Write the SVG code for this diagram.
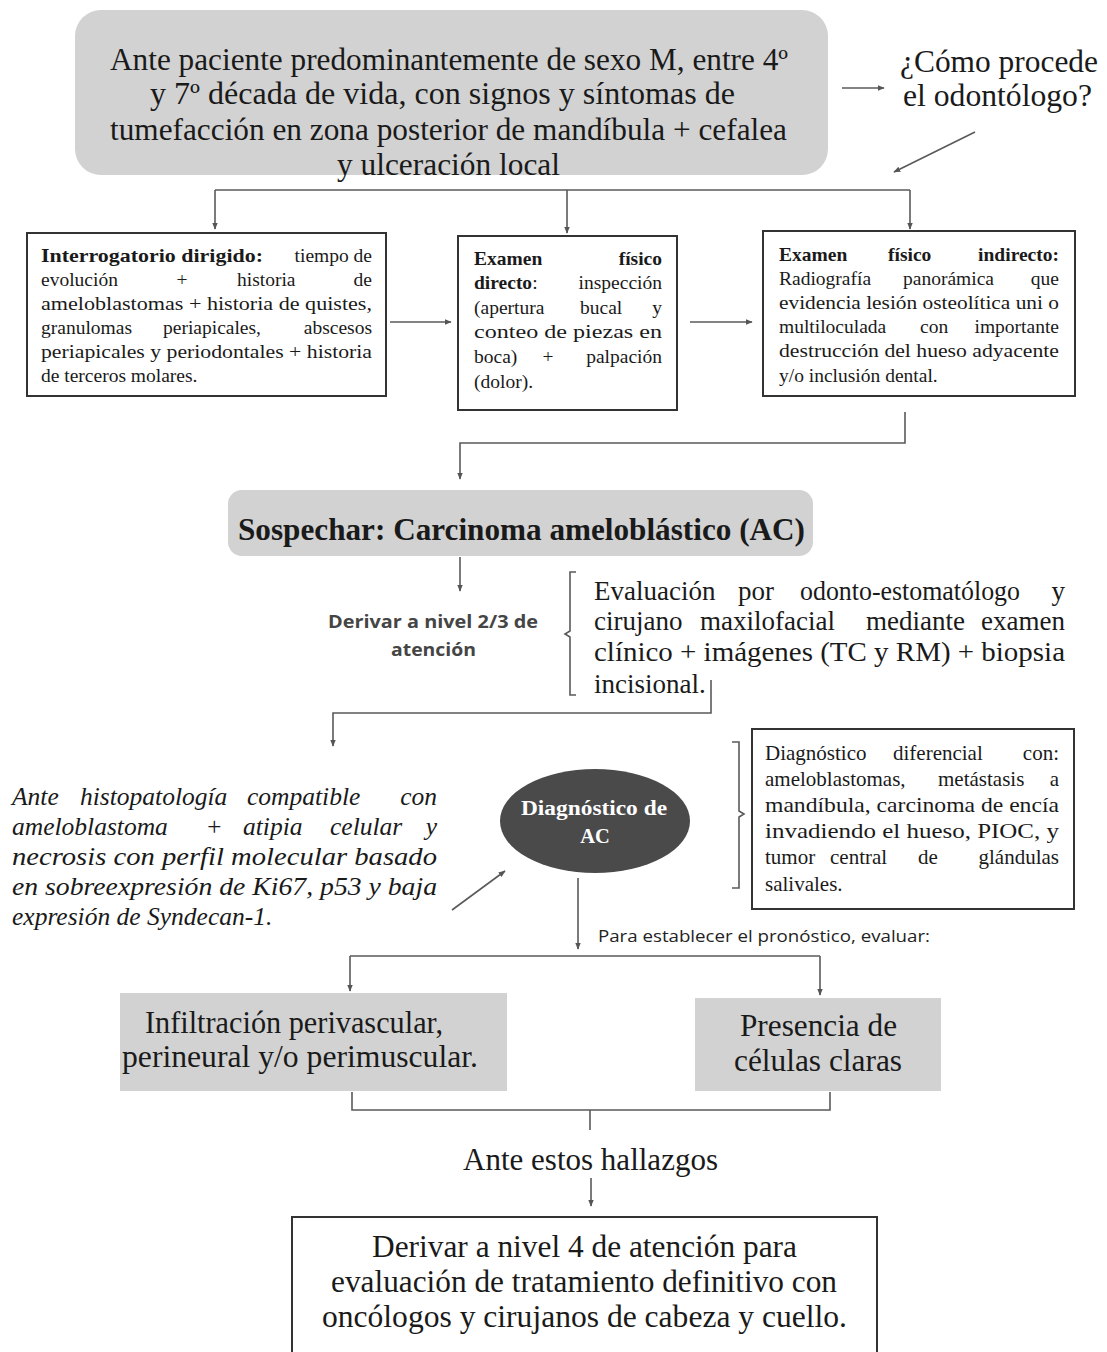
<svg xmlns="http://www.w3.org/2000/svg" width="1107" height="1352" viewBox="0 0 1107 1352">
<style>
.s{font-family:"Liberation Serif","Times New Roman",serif;fill:#1a1a1a}
.b{font-weight:bold}
.i{font-style:italic}
.c{text-anchor:middle}
.e{text-anchor:end}
.ln{stroke:#5a5a5a;stroke-width:1.6;fill:none}
.box{fill:#fff;stroke:#333;stroke-width:2}
.sm{font-size:19.5px}
.md{font-size:21px}
.lg{font-size:27px}
.xl{font-size:30.5px}
.sans{font-family:"Open Sans","Noto Sans",sans-serif}
</style>
<defs>
<marker id="ah" viewBox="0 0 10 10" refX="9" refY="5" markerWidth="7" markerHeight="7" orient="auto" markerUnits="userSpaceOnUse">
<path d="M0,1 L10,5 L0,9 Z" fill="#555"/>
</marker>
</defs>
<rect width="1107" height="1352" fill="#fff"/>

<g id="connectors">
<line class="ln" x1="842" y1="88" x2="884" y2="88" marker-end="url(#ah)"/>
<line class="ln" x1="975" y1="132" x2="894" y2="172" marker-end="url(#ah)"/>
<polyline class="ln" points="215,190 910,190"/>
<line class="ln" x1="215" y1="190" x2="215" y2="229" marker-end="url(#ah)"/>
<line class="ln" x1="567" y1="190" x2="567" y2="233" marker-end="url(#ah)"/>
<line class="ln" x1="910" y1="190" x2="910" y2="229" marker-end="url(#ah)"/>
<line class="ln" x1="390" y1="322" x2="451" y2="322" marker-end="url(#ah)"/>
<line class="ln" x1="690" y1="322" x2="752" y2="322" marker-end="url(#ah)"/>
<polyline class="ln" points="905,412 905,443 460,443 460,479" marker-end="url(#ah)"/>
<line class="ln" x1="460" y1="557" x2="460" y2="591" marker-end="url(#ah)"/>
<path class="ln" d="M576,572 L570,572 L570,631 L565,634 L570,637 L570,695 L576,695"/>
<polyline class="ln" points="711,680 711,713 333,713 333,746" marker-end="url(#ah)"/>
<line class="ln" x1="452" y1="910" x2="505" y2="871" marker-end="url(#ah)"/>
<path class="ln" d="M732,742 L739,742 L739,811 L744,814 L739,817 L739,888 L732,888"/>
<line class="ln" x1="578" y1="878" x2="578" y2="949" marker-end="url(#ah)"/>
<polyline class="ln" points="350,956 820,956"/>
<line class="ln" x1="350" y1="956" x2="350" y2="991" marker-end="url(#ah)"/>
<line class="ln" x1="820" y1="956" x2="820" y2="995" marker-end="url(#ah)"/>
<path class="ln" d="M352,1092 L352,1110 L830,1110 L830,1092 M590,1110 L590,1130"/>
<line class="ln" x1="591" y1="1178" x2="591" y2="1206" marker-end="url(#ah)"/>
</g>

<g id="n-paciente">
<rect x="75" y="10" width="753" height="165" rx="26" fill="#d2d2d2"/>
<text class="s xl" y="70"><tspan x="110" textLength="678" lengthAdjust="spacingAndGlyphs">Ante paciente predominantemente de sexo M, entre 4º</tspan></text>
<text class="s xl" y="104"><tspan x="150" textLength="585" lengthAdjust="spacingAndGlyphs">y 7º década de vida, con signos y síntomas de</tspan></text>
<text class="s xl" y="140"><tspan x="110" textLength="677" lengthAdjust="spacingAndGlyphs">tumefacción en zona posterior de mandíbula + cefalea</tspan></text>
<text class="s xl" y="175"><tspan x="337" textLength="223" lengthAdjust="spacingAndGlyphs">y ulceración local</tspan></text>
</g>

<g id="n-pregunta">
<text class="s xl" y="72"><tspan x="900" textLength="198" lengthAdjust="spacingAndGlyphs">¿Cómo procede</tspan></text>
<text class="s xl" y="106"><tspan x="903" textLength="189" lengthAdjust="spacingAndGlyphs">el odontólogo?</tspan></text>
</g>

<g id="n-interrogatorio">
<rect class="box" x="27" y="233" width="359" height="163"/>
<g class="s sm">
<text y="262"><tspan x="41" class="b" textLength="222" lengthAdjust="spacingAndGlyphs">Interrogatorio dirigido:</tspan></text>
<text y="262" x="372" class="e">tiempo de</text>
<text y="286" x="41">evolución</text><text y="286" x="182" class="c">+</text><text y="286" x="237">historia</text><text y="286" x="372" class="e">de</text>
<text y="310"><tspan x="41" textLength="331" lengthAdjust="spacingAndGlyphs">ameloblastomas + historia de quistes,</tspan></text>
<text y="334" x="41">granulomas</text><text y="334" x="163">periapicales,</text><text y="334" x="372" class="e">abscesos</text>
<text y="358"><tspan x="41" textLength="331" lengthAdjust="spacingAndGlyphs">periapicales y periodontales + historia</tspan></text>
<text y="382" x="41">de terceros molares.</text>
</g>
</g>

<g id="n-directo">
<rect class="box" x="458" y="236" width="219" height="174"/>
<g class="s sm">
<text y="265" x="474" class="b">Examen</text><text y="265" x="662" class="e b">físico</text>
<text y="289" x="474"><tspan class="b">directo</tspan>:</text><text y="289" x="662" class="e">inspección</text>
<text y="314" x="474">(apertura</text><text y="314" x="580">bucal</text><text y="314" x="662" class="e">y</text>
<text y="338"><tspan x="474" textLength="188" lengthAdjust="spacingAndGlyphs">conteo de piezas en</tspan></text>
<text y="363" x="474">boca)</text><text y="363" x="548" class="c">+</text><text y="363" x="662" class="e">palpación</text>
<text y="388" x="474">(dolor).</text>
</g>
</g>

<g id="n-indirecto">
<rect class="box" x="763" y="231" width="312" height="165"/>
<g class="s sm">
<text y="261" x="779" class="b">Examen</text><text y="261" x="888" class="b">físico</text><text y="261" x="1059" class="e b">indirecto:</text>
<text y="285" x="779">Radiografía</text><text y="285" x="903">panorámica</text><text y="285" x="1059" class="e">que</text>
<text y="309"><tspan x="779" textLength="280" lengthAdjust="spacingAndGlyphs">evidencia lesión osteolítica uni o</tspan></text>
<text y="333" x="779">multiloculada</text><text y="333" x="920">con</text><text y="333" x="1059" class="e">importante</text>
<text y="357"><tspan x="779" textLength="280" lengthAdjust="spacingAndGlyphs">destrucción del hueso adyacente</tspan></text>
<text y="382" x="779">y/o inclusión dental.</text>
</g>
</g>

<g id="n-sospechar">
<rect x="228" y="490" width="585" height="66" rx="14" fill="#d2d2d2"/>
<text class="s b" font-size="32" y="540"><tspan x="238" textLength="567" lengthAdjust="spacingAndGlyphs">Sospechar: Carcinoma ameloblástico (AC)</tspan></text>
</g>

<g id="n-derivar23">
<text class="sans" font-weight="bold" font-size="18.5" fill="#454545" y="628"><tspan x="328" textLength="210" lengthAdjust="spacingAndGlyphs">Derivar a nivel 2/3 de</tspan></text>
<text class="sans" font-weight="bold" font-size="18.5" fill="#454545" y="656"><tspan x="391" textLength="85" lengthAdjust="spacingAndGlyphs">atención</tspan></text>
</g>

<g id="n-evaluacion">
<g class="s lg">
<text y="600" x="594">Evaluación</text><text y="600" x="738">por</text><text y="600" x="800"><tspan textLength="220" lengthAdjust="spacingAndGlyphs">odonto-estomatólogo</tspan></text><text y="600" x="1065" class="e">y</text>
<text y="630" x="594">cirujano</text><text y="630" x="700">maxilofacial</text><text y="630" x="866">mediante</text><text y="630" x="1065" class="e">examen</text>
<text y="661"><tspan x="594" textLength="471" lengthAdjust="spacingAndGlyphs">clínico + imágenes (TC y RM) + biopsia</tspan></text>
<text y="693" x="594">incisional.</text>
</g>
</g>

<g id="n-histopatologia">
<g class="s i" font-size="25.5">
<text y="805" x="12">Ante</text><text y="805" x="80">histopatología</text><text y="805" x="247">compatible</text><text y="805" x="437" class="e">con</text>
<text y="835" x="12">ameloblastoma</text><text y="835" x="214" class="c">+</text><text y="835" x="243">atipia</text><text y="835" x="330">celular</text><text y="835" x="437" class="e">y</text>
<text y="865"><tspan x="12" textLength="425" lengthAdjust="spacingAndGlyphs">necrosis con perfil molecular basado</tspan></text>
<text y="895"><tspan x="12" textLength="425" lengthAdjust="spacingAndGlyphs">en sobreexpresión de Ki67, p53 y baja</tspan></text>
<text y="925" x="12">expresión de Syndecan-1.</text>
</g>
</g>

<g id="n-diagnostico">
<ellipse cx="595" cy="821" rx="95" ry="52" fill="#4a4a4a"/>
<text class="s b" font-size="20.5" style="fill:#fff" y="815"><tspan x="521" textLength="146" lengthAdjust="spacingAndGlyphs">Diagnóstico de</tspan></text>
<text class="s b c" font-size="20.5" style="fill:#fff" x="595" y="843">AC</text>
</g>

<g id="n-diferencial">
<rect class="box" x="752" y="729" width="322" height="180"/>
<g class="s md">
<text y="760" x="765">Diagnóstico</text><text y="760" x="893">diferencial</text><text y="760" x="1059" class="e">con:</text>
<text y="786" x="765">ameloblastomas,</text><text y="786" x="938">metástasis</text><text y="786" x="1059" class="e">a</text>
<text y="812"><tspan x="765" textLength="294" lengthAdjust="spacingAndGlyphs">mandíbula, carcinoma de encía</tspan></text>
<text y="838"><tspan x="765" textLength="294" lengthAdjust="spacingAndGlyphs">invadiendo el hueso, PIOC, y</tspan></text>
<text y="864" x="765">tumor</text><text y="864" x="830">central</text><text y="864" x="918">de</text><text y="864" x="1059" class="e">glándulas</text>
<text y="891" x="765">salivales.</text>
</g>
</g>

<g id="n-pronostico">
<text class="sans" font-size="16" fill="#222" y="942"><tspan x="598" textLength="332" lengthAdjust="spacingAndGlyphs">Para establecer el pronóstico, evaluar:</tspan></text>
</g>

<g id="n-infiltracion">
<rect x="120" y="993" width="387" height="98" fill="#d2d2d2"/>
<text class="s xl" y="1033"><tspan x="145" textLength="298" lengthAdjust="spacingAndGlyphs">Infiltración perivascular,</tspan></text>
<text class="s xl" y="1067"><tspan x="122" textLength="356" lengthAdjust="spacingAndGlyphs">perineural y/o perimuscular.</tspan></text>
</g>

<g id="n-celulas">
<rect x="695" y="998" width="246" height="93" fill="#d2d2d2"/>
<text class="s xl" y="1036"><tspan x="740" textLength="157" lengthAdjust="spacingAndGlyphs">Presencia de</tspan></text>
<text class="s xl" y="1071"><tspan x="734" textLength="168" lengthAdjust="spacingAndGlyphs">células claras</tspan></text>
</g>

<g id="n-hallazgos">
<text class="s xl" y="1170"><tspan x="463" textLength="255" lengthAdjust="spacingAndGlyphs">Ante estos hallazgos</tspan></text>
</g>

<g id="n-nivel4">
<rect class="box" x="292" y="1217" width="585" height="150"/>
<text class="s xl" y="1257"><tspan x="372" textLength="425" lengthAdjust="spacingAndGlyphs">Derivar a nivel 4 de atención para</tspan></text>
<text class="s xl" y="1292"><tspan x="331" textLength="506" lengthAdjust="spacingAndGlyphs">evaluación de tratamiento definitivo con</tspan></text>
<text class="s xl" y="1327"><tspan x="322" textLength="525" lengthAdjust="spacingAndGlyphs">oncólogos y cirujanos de cabeza y cuello.</tspan></text>
</g>
</svg>
